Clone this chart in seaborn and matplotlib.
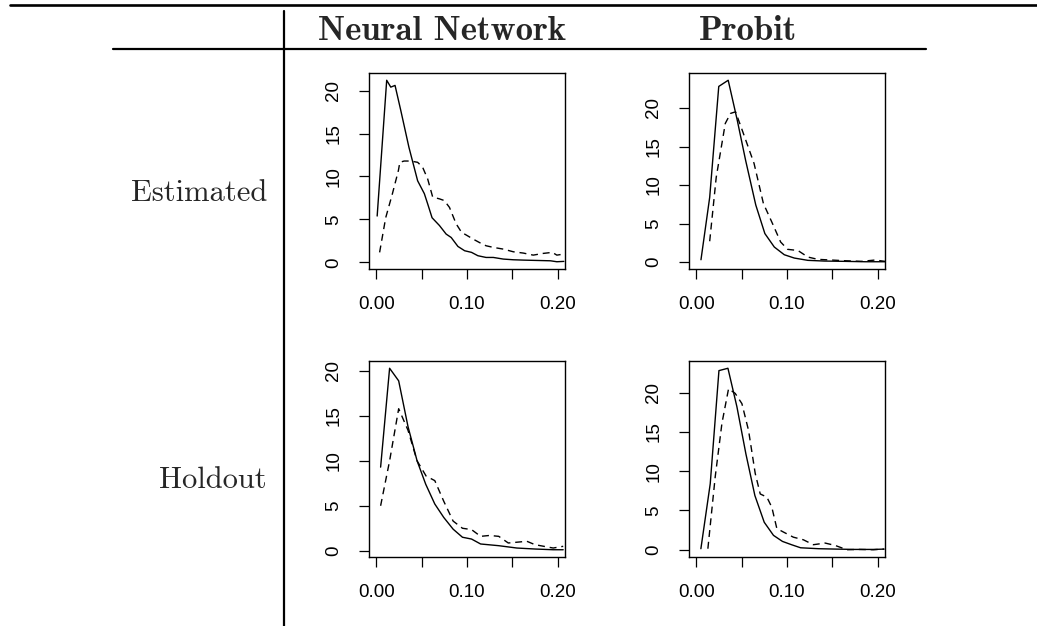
import numpy as np
import pandas as pd
import matplotlib
matplotlib.use("Agg")
import matplotlib.pyplot as plt
import seaborn as sns

# column / row headings of the table
col_names = ["Neural Network", "Probit"]
row_names = ["Estimated", "Holdout"]

# Estimated, Neural Network
est_nn_solid_x = [0.001, 0.0115, 0.016, 0.0207, 0.027, 0.036, 0.0456, 0.053, 0.0567, 0.0615,
                  0.0696, 0.077, 0.0826, 0.09, 0.0974, 0.105, 0.112, 0.121, 0.129, 0.14,
                  0.151, 0.162, 0.177, 0.192, 0.199, 0.2067]
est_nn_solid_y = [5.4, 21.2, 20.4, 20.6, 17.7, 13.4, 9.5, 8.0, 6.8, 5.2,
                  4.3, 3.3, 2.9, 1.86, 1.36, 1.17, 0.78, 0.58, 0.58, 0.39,
                  0.31, 0.27, 0.23, 0.19, 0.08, 0.12]
est_nn_dash_x = [0.0037, 0.0104, 0.0178, 0.0244, 0.026, 0.0307, 0.038, 0.0456, 0.051, 0.0567,
                 0.0622, 0.0696, 0.075, 0.0807, 0.088, 0.094, 0.099, 0.107, 0.114, 0.121,
                 0.129, 0.14, 0.151, 0.162, 0.173, 0.184, 0.194, 0.199, 0.2067]
est_nn_dash_y = [1.17, 5.2, 8.0, 10.7, 11.65, 11.8, 11.8, 11.65, 11.1, 9.7,
                 7.6, 7.4, 7.2, 6.4, 4.5, 3.5, 3.2, 2.7, 2.3, 1.94,
                 1.75, 1.55, 1.24, 1.09, 0.85, 1.05, 1.17, 0.85, 0.97]

# Estimated, Probit
est_pr_solid_x = [0.0052, 0.0148, 0.0248, 0.0352, 0.0452, 0.0544, 0.0656, 0.0756, 0.086, 0.097,
                  0.108, 0.123, 0.141, 0.164, 0.186, 0.208]
est_pr_solid_y = [0.3, 8.4, 22.8, 23.6, 18.4, 13.2, 7.4, 3.7, 1.95, 0.95,
                  0.52, 0.22, 0.13, 0.09, 0.04, 0.04]
est_pr_dash_x = [0.0148, 0.022, 0.032, 0.0378, 0.0433, 0.0507, 0.0637, 0.074, 0.084, 0.093,
                 0.1007, 0.112, 0.123, 0.134, 0.149, 0.164, 0.182, 0.197, 0.208]
est_pr_dash_y = [2.7, 11.0, 18.0, 19.3, 19.5, 17.1, 12.8, 7.6, 5.0, 2.6,
                 1.65, 1.5, 0.65, 0.35, 0.26, 0.17, 0.09, 0.26, 0.09]

# Holdout, Neural Network
hol_nn_solid_x = [0.0048, 0.0147, 0.0247, 0.035, 0.045, 0.0545, 0.0645, 0.0744, 0.0847, 0.095,
                  0.105, 0.115, 0.135, 0.155, 0.175, 0.195, 0.206]
hol_nn_solid_y = [9.3, 20.3, 18.9, 13.8, 10.0, 7.4, 5.2, 3.7, 2.4, 1.5,
                  1.3, 0.75, 0.56, 0.3, 0.19, 0.11, 0.11]
hol_nn_dash_x = [0.0048, 0.0147, 0.0247, 0.035, 0.045, 0.055, 0.0645, 0.0744, 0.0847, 0.095,
                 0.105, 0.115, 0.125, 0.135, 0.1455, 0.166, 0.175, 0.195, 0.206]
hol_nn_dash_y = [5.0, 10.0, 15.8, 13.4, 10.0, 8.3, 7.8, 5.5, 3.3, 2.5,
                 2.35, 1.6, 1.7, 1.6, 0.86, 1.05, 0.67, 0.3, 0.49]

# Holdout, Probit
hol_pr_solid_x = [0.0051, 0.0154, 0.025, 0.0349, 0.0448, 0.0547, 0.0646, 0.0749, 0.0851, 0.095,
                  0.105, 0.115, 0.135, 0.155, 0.175, 0.195, 0.207]
hol_pr_solid_y = [0.13, 8.4, 22.8, 23.1, 18.2, 12.2, 6.9, 3.5, 1.83, 1.06,
                  0.64, 0.25, 0.13, 0.08, 0.04, 0.04, 0.08]
hol_pr_dash_x = [0.0128, 0.0209, 0.0283, 0.0356, 0.0429, 0.0503, 0.0576, 0.065, 0.0705, 0.0778,
                 0.0833, 0.0888, 0.0961, 0.107, 0.118, 0.129, 0.142, 0.153, 0.166, 0.18,
                 0.195, 0.207]
hol_pr_dash_y = [0.13, 9.3, 16.1, 20.5, 19.9, 18.6, 15.2, 9.7, 7.1, 6.7,
                 5.4, 2.7, 2.25, 1.6, 1.27, 0.64, 0.85, 0.55, 0.0, 0.04,
                 0.0, 0.08]

x_ticks = [0.0, 0.05, 0.10, 0.15, 0.20]
x_tick_labels = ["0.00", "", "0.10", "", "0.20"]
y_ticks = [0, 5, 10, 15, 20]

panels = [
    (est_nn_solid_x, est_nn_solid_y, est_nn_dash_x, est_nn_dash_y),
    (est_pr_solid_x, est_pr_solid_y, est_pr_dash_x, est_pr_dash_y),
    (hol_nn_solid_x, hol_nn_solid_y, hol_nn_dash_x, hol_nn_dash_y),
    (hol_pr_solid_x, hol_pr_solid_y, hol_pr_dash_x, hol_pr_dash_y),
]

sns.set_theme(style="ticks")
plt.rcParams["font.family"] = ["Liberation Sans", "DejaVu Sans"]

W, H = 1037, 626
fig = plt.figure(figsize=(W / 100, H / 100), dpi=100)

# panel boxes in pixels (left, top), all the same size
boxes = [(369, 73), (689, 73), (369, 361), (689, 361)]
bw, bh = 196, 196

for (px, py), (sx, sy, dx, dy) in zip(boxes, panels):
    ax = fig.add_axes([px / W, 1 - (py + bh) / H, bw / W, bh / H])
    df_s = pd.DataFrame({"x": sx, "y": sy})
    df_d = pd.DataFrame({"x": dx, "y": dy})
    sns.lineplot(data=df_s, x="x", y="y", ax=ax, color="black", lw=1.0,
                 sort=False, estimator=None)
    sns.lineplot(data=df_d, x="x", y="y", ax=ax, color="black", lw=1.0,
                 sort=False, estimator=None)
    ax.lines[-1].set_dashes((5, 3.5))
    # R style 4% extension
    lo, hi = min(sy + dy), max(sy + dy)
    pad = 0.04 * (hi - lo)
    ax.set_ylim(lo - pad, hi + pad)
    ax.set_xlim(-0.008, 0.208)
    ax.set_xticks(x_ticks)
    ax.set_xticklabels(x_tick_labels)
    ax.set_yticks(y_ticks)
    ax.set_yticklabels([str(t) for t in y_ticks], rotation=90, va="center")
    ax.set_xlabel("")
    ax.set_ylabel("")
    ax.tick_params(direction="out", length=7.2, width=0.9, labelsize=13.5,
                   pad=12, colors="black")
    for sp in ax.spines.values():
        sp.set_visible(True)
        sp.set_linewidth(1.0)
        sp.set_color("black")
    ax.set_facecolor("white")

# table rules
def hline(y, x0, x1, lw):
    fig.add_artist(plt.Line2D([x0 / W, x1 / W], [1 - y / H, 1 - y / H],
                              color="black", lw=lw, transform=fig.transFigure))

def vline(x, y0, y1, lw):
    fig.add_artist(plt.Line2D([x / W, x / W], [1 - y0 / H, 1 - y1 / H],
                              color="black", lw=lw, transform=fig.transFigure))

hline(4.7, 10, 1037, 1.9)
hline(49.3, 113, 926, 1.6)
vline(284, 10.5, 626, 1.6)

# headings
fig.text(442 / W, 1 - 31 / H, col_names[0], family="cmb10", fontsize=25,
         ha="center", va="center")
fig.text(748 / W, 1 - 31 / H, col_names[1], family="cmb10", fontsize=25,
         ha="center", va="center")
fig.text(267 / W, 1 - 193 / H, row_names[0], family="cmr10", fontsize=22,
         ha="right", va="center")
fig.text(267 / W, 1 - 480 / H, row_names[1], family="cmr10", fontsize=22,
         ha="right", va="center")

fig.savefig("out.png", dpi=100, facecolor="white")
